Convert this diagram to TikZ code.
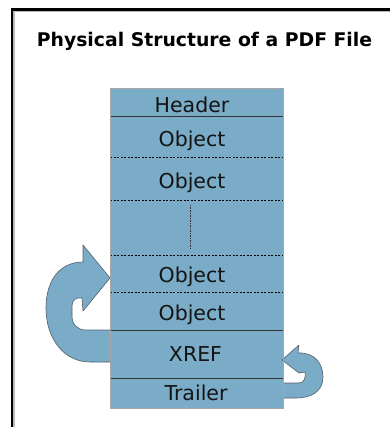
\documentclass[tikz,border=0pt]{standalone}
\usepackage{fontspec}
\setmainfont{DejaVu Sans}
\definecolor{boxblue}{RGB}{122,171,199}
\definecolor{edgegray}{RGB}{85,95,105}
\definecolor{txt}{RGB}{20,20,20}
\begin{document}
\begin{tikzpicture}[x=1pt,y=-1pt,
 lbl/.style={font=\fontsize{20.5}{24}\selectfont, text=txt, inner sep=0pt, anchor=base},
 ttl/.style={font=\bfseries\fontsize{18.8}{22}\selectfont, text=black, inner sep=0pt, anchor=base},
 sep/.style={draw=black!80, line width=0.8pt},
 dsep/.style={draw=black, line width=0.8pt, dash pattern=on 2pt off 1.5pt},
 arr/.style={fill=boxblue, draw=edgegray, line width=0.6pt, line join=round}]
\useasboundingbox (0,0) rectangle (390,427);
\fill[white] (0,0) rectangle (390,427);
% frame
\draw[gray!55, line width=1.6pt] (14,11.5) -- (390,11.5);
\draw[gray!55, line width=1.6pt] (14,11.5) -- (14,427);
\draw[black, line width=2.3pt] (12.1,9.6) -- (390,9.6);
\draw[black, line width=2.3pt] (12.1,8.5) -- (12.1,427);
% title
\node[ttl] (title) at (204.5,47) {Physical Structure of a PDF File};
% stack
\fill[boxblue] (110,88) rectangle (283,408);
\draw[sep] (110,116) -- (283,116);
\draw[dsep] (110,157) -- (283,157);
\draw[dsep] (110,200) -- (283,200);
\draw[dsep] (110,255) -- (283,255);
\draw[dsep] (110,292) -- (283,292);
\draw[sep] (110,330) -- (283,330);
\draw[sep] (110,378) -- (283,378);
\draw[black!80, line width=0.6pt, dash pattern=on 1.5pt off 1pt] (190,205) -- (190,249);
% left curved arrow
\draw[arr] (110,330) -- (86,330) .. controls (78,330) and (72,325) .. (72,316)
  -- (72,306) .. controls (72,300) and (76,297) .. (82,298)
  -- (83,311) -- (110,278) -- (83,245) -- (83,262)
  .. controls (60,262) and (46,280) .. (46,308)
  .. controls (46,340) and (65,362) .. (90,362) -- (110,362);
% right curved arrow
\draw[arr] (283,383) -- (299,383) .. controls (304,383) and (306,378) .. (305,372)
  -- (299,373) -- (282,360) -- (299,345) -- (298,353)
  .. controls (315,352) and (323,364) .. (323,377)
  .. controls (323,391) and (312,398) .. (296,398) -- (283,398);
\draw[gray!70, line width=0.6pt] (110,88) rectangle (283,408);
% labels
\node[lbl] (header) at (192,113) {Header};
\node[lbl] (obj1) at (192,147) {Object};
\node[lbl] (obj2) at (192,189) {Object};
\node[lbl] (obj3) at (192,282) {Object};
\node[lbl] (obj4) at (192,320) {Object};
\node[lbl] (xref) at (195.5,361) {XREF};
\node[lbl] (trailer) at (196,400.5) {Trailer};
\end{tikzpicture}
\end{document}
